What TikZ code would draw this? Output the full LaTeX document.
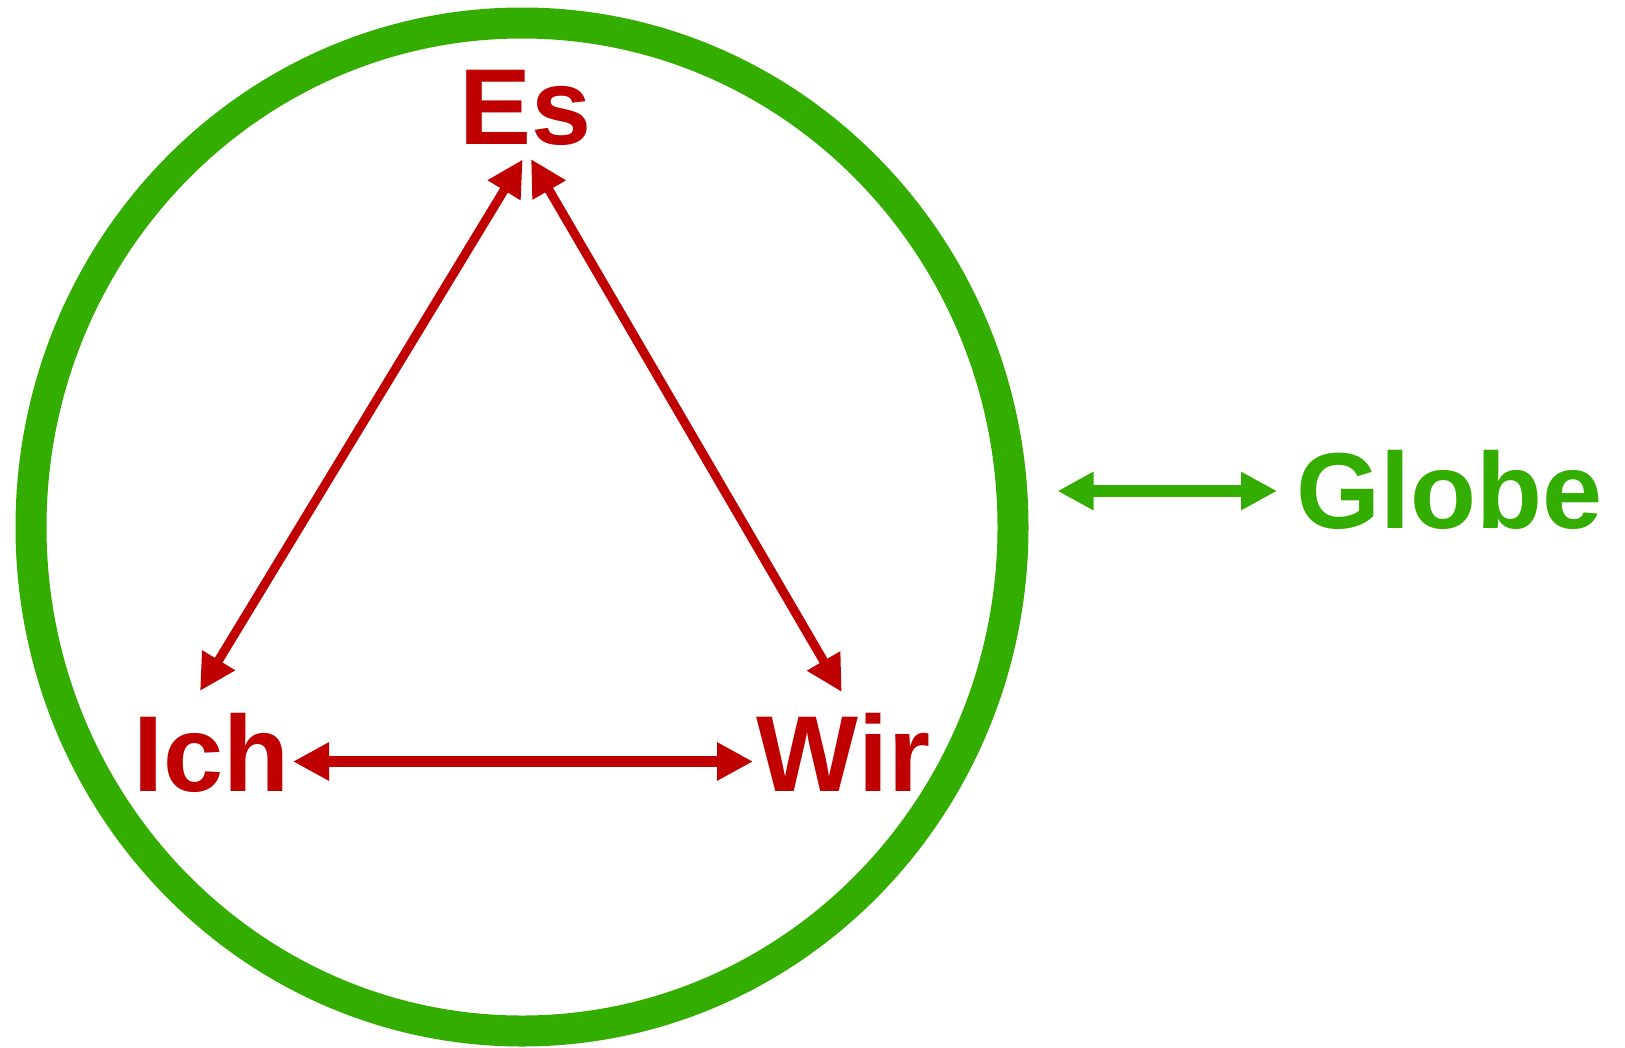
\documentclass[tikz,border=0pt]{standalone}
\usepackage{fontspec}
\setmainfont{Liberation Sans}
\usetikzlibrary{arrows.meta,shapes.geometric}
\definecolor{ringgreen}{RGB}{51,173,0}
\definecolor{arrowred}{RGB}{192,0,0}
\begin{document}
\begin{tikzpicture}[x=1pt,y=-1pt,
  lbl/.style={font=\fontsize{108}{110}\selectfont\bfseries, inner sep=0pt, anchor=base},
  tipx/.tip={Triangle[length=36pt,width=36pt]},
  redarrow/.style={draw=arrowred, fill=arrowred, tipx-tipx},
  greenarrow/.style={draw=ringgreen, fill=ringgreen, tipx-tipx},
  ring/.style={ellipse, draw=ringgreen, line width=31pt, inner sep=0pt, outer sep=0pt}
  ]
\useasboundingbox (0,0) rectangle (1625,1047);
\node[ring, minimum width=982pt, minimum height=1008pt] (ring) at (522,527) {};
\node[lbl, text=arrowred] (es) at (525.5,144) {Es};
\node[lbl, text=arrowred] (ich) at (211.5,791) {Ich};
\node[lbl, text=arrowred] (wir) at (843.5,791) {Wir};
\node[lbl, text=ringgreen] (globe) at (1449,528.6) {Globe};
\draw[redarrow, line width=9pt] ([shift={(-2.8,15.5)}]es.base) -- ([shift={(-11.5,-100)}]ich.base);
\draw[redarrow, line width=9pt] ([shift={(5.5,15)}]es.base) -- ([shift={(-1.8,-99)}]wir.base);
\draw[redarrow, line width=11.7pt] ([shift={(81.5,-29.5)}]ich.base) -- ([shift={(-90.5,-29.5)}]wir.base);
\draw[greenarrow, line width=11.7pt] ([shift={(44.5,-36)}]ring.east) -- ([shift={(-172,-37.6)}]globe.base);
\end{tikzpicture}
\end{document}
